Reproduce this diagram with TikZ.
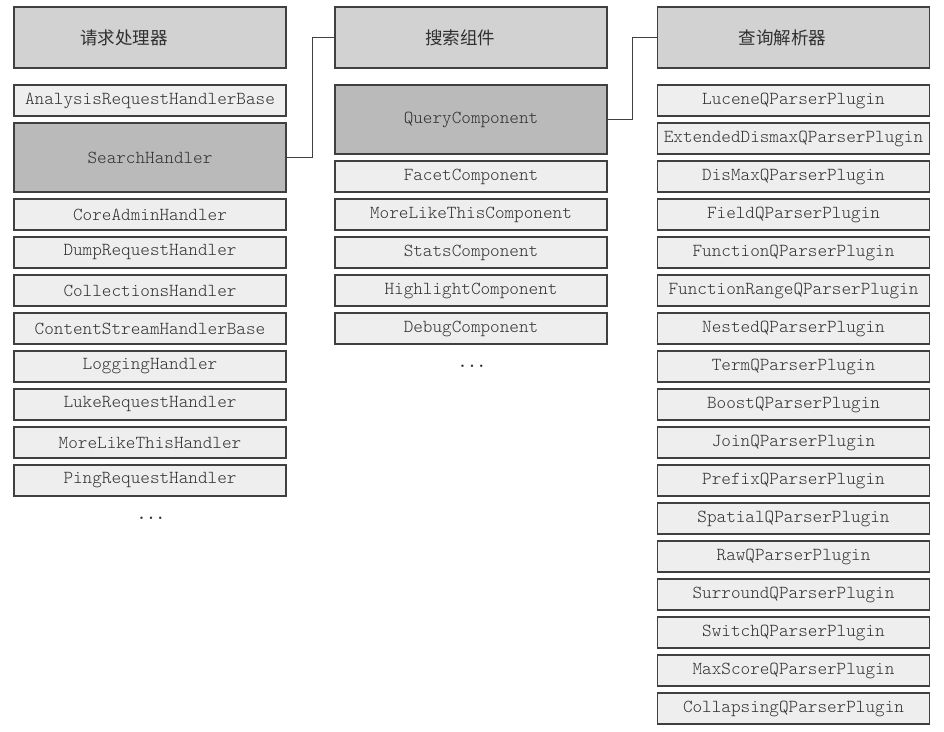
\documentclass[tikz,border=0pt]{standalone}
\usepackage{fontspec}
\setmonofont{Latin Modern Mono Light}
\newfontfamily\cjk{Noto Sans CJK SC}
\definecolor{hdr}{HTML}{D2D2D2}
\definecolor{dark}{HTML}{BABABA}
\definecolor{light}{HTML}{EEEEEE}
\definecolor{edge}{HTML}{404040}
\definecolor{txt}{HTML}{303030}
\newcommand{\hshift}[1]{\hspace*{-#1pt}}
\begin{document}
\begin{tikzpicture}[x=1pt,y=-1pt,
  base/.style={draw=edge,line width=1.2pt,inner sep=0pt,text=txt,minimum width=272pt},
  hdrbox/.style={base,fill=hdr,minimum height=61pt,font=\cjk\fontsize{17.5}{18}\selectfont},
  item/.style={base,fill=light,minimum height=31pt,font=\ttfamily\fontsize{18.3}{18}\selectfont},
  hot/.style={item,fill=dark},
  wire/.style={draw=edge,line width=1.2pt},
  dotsl/.style={font=\ttfamily\bfseries\fontsize{18}{18}\selectfont,text=txt,inner sep=0pt}]
\useasboundingbox[fill=white] (0,0) rectangle (944,731);
% column 1
\node[hdrbox] (h1) at (150,37.5) {\hshift{52}请求处理器};
\node[item] (a1) at (150,100.5) {AnalysisRequestHandlerBase};
\node[hot,minimum height=69pt] (a2) at (150,157.5) {SearchHandler};
\node[item] (a3) at (150,214.5) {CoreAdminHandler};
\node[item] (a4) at (150,252.5) {DumpRequestHandler};
\node[item] (a5) at (150,290.5) {CollectionsHandler};
\node[item] (a6) at (150,328.5) {ContentStreamHandlerBase};
\node[item] (a7) at (150,366.5) {LoggingHandler};
\node[item] (a8) at (150,404.5) {LukeRequestHandler};
\node[item] (a9) at (150,442.5) {MoreLikeThisHandler};
\node[item] (a10) at (150,480.5) {PingRequestHandler};
\node[dotsl] (d1) at (151,518) {...};
% column 2
\node[hdrbox] (h2) at (471,37.5) {\hshift{22}搜索组件};
\node[hot,minimum height=69pt] (b1) at (471,119.5) {QueryComponent};
\node[item] (b2) at (471,176.5) {FacetComponent};
\node[item] (b3) at (471,214.5) {MoreLikeThisComponent};
\node[item] (b4) at (471,252.5) {StatsComponent};
\node[item] (b5) at (471,290.5) {HighlightComponent};
\node[item] (b6) at (471,328.5) {DebugComponent};
\node[dotsl] (d2) at (472,366) {...};
% column 3
\node[hdrbox] (h3) at (793.5,37.5) {\hshift{22}查询解析器};
\node[item] (c1) at (793.5,100.5) {LuceneQParserPlugin};
\node[item] (c2) at (793.5,138.5) {ExtendedDismaxQParserPlugin};
\node[item] (c3) at (793.5,176.5) {DisMaxQParserPlugin};
\node[item] (c4) at (793.5,214.5) {FieldQParserPlugin};
\node[item] (c5) at (793.5,252.5) {FunctionQParserPlugin};
\node[item] (c6) at (793.5,290.5) {FunctionRangeQParserPlugin};
\node[item] (c7) at (793.5,328.5) {NestedQParserPlugin};
\node[item] (c8) at (793.5,366.5) {TermQParserPlugin};
\node[item] (c9) at (793.5,404.5) {BoostQParserPlugin};
\node[item] (c10) at (793.5,442.5) {JoinQParserPlugin};
\node[item] (c11) at (793.5,480.5) {PrefixQParserPlugin};
\node[item] (c12) at (793.5,518.5) {SpatialQParserPlugin};
\node[item] (c13) at (793.5,556.5) {RawQParserPlugin};
\node[item] (c14) at (793.5,594.5) {SurroundQParserPlugin};
\node[item] (c15) at (793.5,632.5) {SwitchQParserPlugin};
\node[item] (c16) at (793.5,670.5) {MaxScoreQParserPlugin};
\node[item] (c17) at (793.5,708.5) {CollapsingQParserPlugin};
% connectors
\draw[wire] (a2.east) -- ++(25.5,0) |- (h2.west);
\draw[wire] (b1.east) -- ++(25,0) |- (h3.west);
\end{tikzpicture}
\end{document}
